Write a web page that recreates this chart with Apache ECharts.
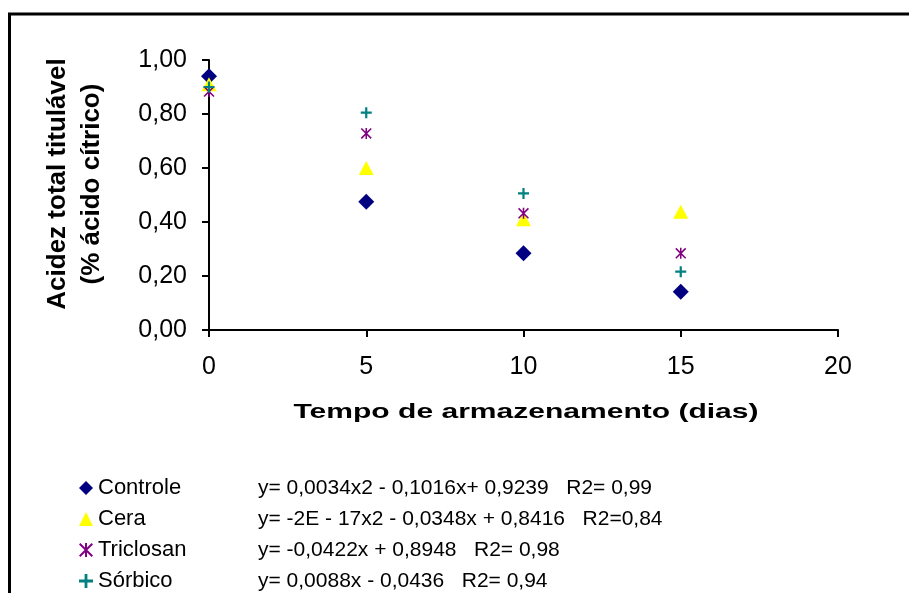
<!DOCTYPE html>
<html>
<head>
<meta charset="utf-8">
<script src="https://cdn.jsdelivr.net/npm/echarts@6/dist/echarts.min.js"></script>
<style>
  html, body { margin: 0; padding: 0; background: #fff; }
  #main { width: 909px; height: 593px; }
</style>
</head>
<body>
<div id="main"></div>
<script>
// storage time (days)
var days = [0, 5, 10, 15];

// titratable acidity (% citric acid)
var controle = [0.94, 0.475, 0.284, 0.142];
var cera = [0.91, 0.60, 0.41, 0.438];
var triclosan = [0.883, 0.728, 0.432, 0.284];
var sorbico = [0.90, 0.805, 0.506, 0.216];

var seriesNames = ['Controle', 'Cera', 'Triclosan', 'Sórbico'];
var equations = [
    'y= 0,0034x2 - 0,1016x+ 0,9239   R2= 0,99',
    'y= -2E - 17x2 - 0,0348x + 0,8416   R2=0,84',
    'y= -0,0422x + 0,8948   R2= 0,98',
    'y= 0,0088x - 0,0436   R2= 0,94'
];

var FONT = "'Liberation Sans', Arial, sans-serif";

var plusPath = 'path://M4,0 L6,0 L6,4 L10,4 L10,6 L6,6 L6,10 L4,10 L4,6 L0,6 L0,4 L4,4 Z';
var starPath = 'path://M4.3,0 L5.7,0 L5.7,10 L4.3,10 Z M0,1 L1,0 L10,9 L9,10 Z M9,0 L10,1 L1,10 L0,9 Z';

function pairs(ys) {
    return days.map(function (d, i) { return [d, ys[i]]; });
}

var chart = echarts.init(document.getElementById('main'));

var option = {
    backgroundColor: '#fff',
    animation: false,
    textStyle: { fontFamily: FONT },
    grid: { left: 209, top: 60, width: 629, height: 270 },
    xAxis: {
        type: 'value',
        min: 0, max: 20, interval: 5,
        splitLine: { show: false },
        axisLine: { lineStyle: { color: '#000', width: 2 } },
        axisTick: { length: 7, lineStyle: { color: '#000', width: 2 } },
        axisLabel: { color: '#000', fontSize: 25, fontFamily: FONT, margin: 25 }
    },
    yAxis: {
        type: 'value',
        min: 0, max: 1, interval: 0.2,
        splitLine: { show: false },
        axisLine: { show: true, lineStyle: { color: '#000', width: 2 } },
        axisTick: { show: true, length: 7, lineStyle: { color: '#000', width: 2 } },
        axisLabel: {
            color: '#000', fontSize: 25, fontFamily: FONT, margin: 22,
            formatter: function (v) { return v.toFixed(2).replace('.', ','); }
        }
    },
    legend: {
        orient: 'vertical',
        left: 79, top: 477,
        height: 140,
        padding: 0,
        itemWidth: 14, itemHeight: 14,
        itemGap: 9,
        data: seriesNames,
        formatter: function (name) {
            var i = seriesNames.indexOf(name);
            return '{n|' + name + '}{e|' + equations[i] + '}';
        },
        textStyle: {
            color: '#000',
            rich: {
                n: { width: 160, fontSize: 22, fontFamily: FONT, lineHeight: 22, color: '#000' },
                e: { fontSize: 21, fontFamily: FONT, lineHeight: 22, color: '#000' }
            }
        }
    },
    graphic: [
        {
            type: 'rect', silent: true,
            shape: { x: 9.5, y: 14, width: 1000, height: 1000 },
            style: { fill: 'none', stroke: '#000', lineWidth: 3 }
        },
        {
            type: 'text', silent: true,
            x: 526, y: 412, scaleX: 1.43,
            style: {
                text: 'Tempo de armazenamento (dias)',
                font: 'bold 21px ' + FONT,
                fill: '#000',
                textAlign: 'center', textVerticalAlign: 'middle'
            }
        },
        {
            type: 'text', silent: true,
            x: 75, y: 184, rotation: Math.PI / 2,
            style: {
                text: 'Acidez total titulável\n(% ácido cítrico)',
                font: 'bold 26px ' + FONT,
                lineHeight: 34,
                fill: '#000',
                textAlign: 'center', textVerticalAlign: 'middle'
            }
        }
    ],
    series: [
        {
            name: seriesNames[0], type: 'scatter',
            symbol: 'diamond', symbolSize: 16,
            itemStyle: { color: '#000080', opacity: 1 },
            data: pairs(controle)
        },
        {
            name: seriesNames[1], type: 'scatter',
            symbol: 'triangle', symbolSize: [15, 14],
            itemStyle: { color: '#FFFF00', opacity: 1 },
            data: pairs(cera)
        },
        {
            name: seriesNames[2], type: 'scatter',
            symbol: starPath, symbolSize: 11,
            itemStyle: { color: '#800080', opacity: 1 },
            data: pairs(triclosan)
        },
        {
            name: seriesNames[3], type: 'scatter',
            symbol: plusPath, symbolSize: 11,
            itemStyle: { color: '#008080', opacity: 1 },
            data: pairs(sorbico)
        }
    ]
};

chart.setOption(option);
</script>
</body>
</html>
